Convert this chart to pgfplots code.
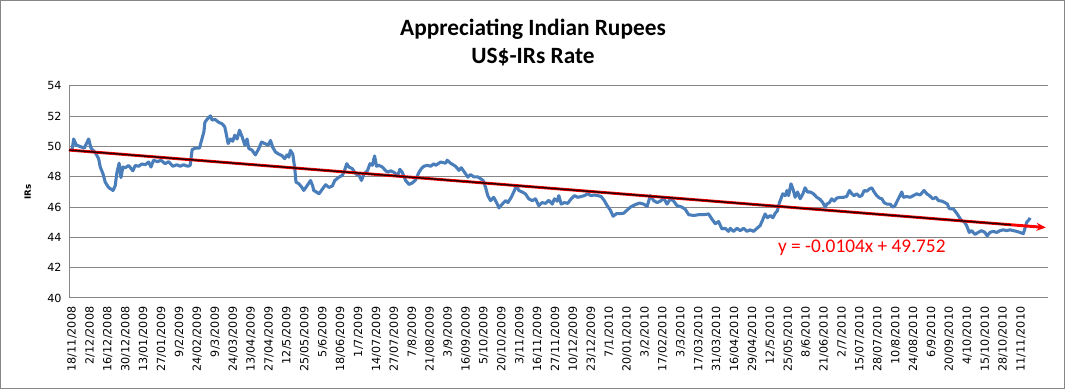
\documentclass[border=0pt]{standalone}
\usepackage{fontspec}
\usepackage{pgfplots}
\pgfplotsset{compat=1.18}
\usepackage{pgfplotstable}
\usetikzlibrary{arrows.meta}
\setmainfont{DejaVu Sans}
\newfontfamily\calibri{Carlito}
\definecolor{gridc}{HTML}{868686}
\definecolor{linec}{HTML}{4A7EBB}
\pgfplotstableread{
idx val
0 49.75
0.85 50.5
2.16 50.1
4.17 50.0
6.18 49.9
8.39 50.5
9.54 49.9
11.7 49.6
13.4 49.2
14.2 48.65
15.6 48.2
16.7 47.65
18.4 47.3
20.6 47.1
21.7 47.4
22.6 48.3
23.7 48.9
24.6 47.95
25.6 48.65
26.8 48.6
28.5 48.75
30.6 48.4
31.8 48.75
33.5 48.7
35.1 48.85
36.8 48.8
38.5 48.98
39.7 48.65
41.0 49.1
43.0 49.0
44.7 49.1
46.8 48.87
48.6 49.0
50.7 48.7
52.7 48.8
54.4 48.7
56.1 48.8
58.1 48.7
59.4 48.75
60.4 49.8
62.1 49.9
64.1 49.9
65.1 50.4
66.3 50.97
66.8 51.6
67.9 51.8
69.6 52.03
70.4 51.75
71.8 51.8
73.8 51.6
75.5 51.5
76.8 51.3
77.5 50.86
78.5 50.2
79.7 50.5
80.8 50.35
81.8 50.75
83.0 50.5
84.2 51.08
85.5 50.65
86.9 50.1
88.0 50.5
88.9 49.87
90.5 49.76
92.2 49.45
93.9 49.87
95.3 50.3
96.9 50.2
98.6 50.1
99.8 50.4
100.9 49.95
102.3 49.64
103.9 49.5
105.6 49.4
106.9 49.2
108.1 49.45
109.0 49.3
109.8 49.75
111.0 49.5
112.0 48.54
112.6 47.65
114.0 47.55
115.6 47.3
116.5 47.1
118.1 47.4
119.9 47.76
121.0 47.4
121.5 47.1
122.5 47.03
124.2 46.88
125.9 47.2
127.5 47.48
129.2 47.3
130.9 47.4
132.1 47.76
134.2 47.98
135.9 48.1
136.7 48.31
138.1 48.87
139.2 48.65
140.9 48.54
142.6 48.2
144.3 48.1
145.5 47.76
146.8 48.2
148.5 48.4
149.8 48.87
151.0 48.76
152.1 49.38
153.1 48.7
154.3 48.76
156.0 48.65
157.7 48.4
158.8 48.31
160.2 48.4
161.8 48.3
163.8 48.1
164.8 48.5
166.0 48.3
167.7 47.76
169.4 47.5
171.1 47.6
172.7 47.8
174.4 48.3
175.6 48.54
176.9 48.7
178.6 48.76
180.3 48.7
181.9 48.87
182.8 48.76
185.3 48.98
187.8 48.9
188.6 49.1
190.3 48.9
192.8 48.7
194.5 48.43
195.7 48.6
197.3 48.3
199.0 47.98
200.3 48.15
202.0 48.0
204.0 48.0
205.4 47.87
206.7 47.76
207.9 47.3
209.0 46.76
210.4 46.43
212.0 46.65
213.8 46.2
214.6 45.95
216.3 46.2
217.9 46.43
219.1 46.3
220.8 46.65
222.4 47.1
223.4 47.43
224.6 47.1
226.3 47.0
227.9 46.88
229.6 46.55
231.3 46.43
233.0 46.55
234.6 46.1
236.3 46.3
238.0 46.25
239.7 46.45
241.4 46.2
242.5 46.55
243.9 46.4
244.7 46.76
245.9 46.2
247.5 46.3
249.2 46.25
250.9 46.55
252.6 46.76
254.2 46.65
255.9 46.7
257.6 46.76
259.2 46.88
260.9 46.76
262.6 46.8
264.3 46.76
266.0 46.7
267.6 46.43
269.0 46.1
270.1 45.9
270.6 45.8
272.0 45.4
273.7 45.57
275.7 45.57
277.3 45.6
279.0 45.8
280.7 46.0
283.2 46.17
285.3 46.27
287.4 46.2
289.1 46.05
290.7 46.76
292.4 46.43
294.1 46.3
295.8 46.4
297.4 46.6
299.1 46.2
300.8 46.55
302.4 46.4
304.1 46.1
306.6 46.0
308.3 45.85
310.0 45.5
312.5 45.45
315.0 45.5
317.5 45.5
320.0 45.55
321.7 45.2
323.4 44.9
325.0 45.05
326.7 44.56
328.4 44.6
330.0 44.4
330.9 44.6
332.5 44.4
334.3 44.6
335.9 44.45
337.6 44.6
339.3 44.4
340.9 44.5
342.6 44.4
344.3 44.6
345.9 44.78
347.3 45.2
348.4 45.55
349.6 45.3
351.0 45.45
352.3 45.3
353.5 45.6
354.6 45.77
355.6 46.3
357.3 46.88
358.5 46.76
359.4 47.1
360.2 46.76
361.4 47.54
362.4 47.2
363.5 46.65
364.7 47.0
366.0 46.55
367.4 46.88
368.5 47.28
369.7 47.0
371.1 47.0
372.7 46.88
374.4 46.65
376.1 46.5
377.4 46.3
378.6 46.0
379.4 46.2
380.7 46.3
381.9 46.55
383.1 46.4
384.4 46.6
386.1 46.65
387.7 46.65
389.4 46.7
390.8 47.1
392.0 46.88
393.1 46.76
394.5 46.88
395.8 46.7
397.0 46.76
398.2 47.1
399.5 47.05
400.8 47.2
402.0 47.28
403.2 47.0
404.5 46.76
405.9 46.6
407.1 46.55
408.2 46.3
409.6 46.2
411.2 46.2
412.6 46.0
413.7 46.1
414.9 46.43
416.2 46.76
417.1 47.0
417.9 46.65
419.6 46.7
421.3 46.65
422.9 46.76
424.6 46.88
426.3 46.8
428.3 47.1
429.7 46.88
431.0 46.76
432.7 46.55
434.3 46.65
435.5 46.43
437.2 46.4
438.8 46.3
440.0 46.2
441.0 45.9
443.0 45.88
444.7 45.6
446.0 45.33
447.2 45.1
448.4 45.05
449.7 44.78
451.0 44.33
452.2 44.45
453.9 44.2
455.5 44.33
457.2 44.45
458.9 44.33
460.0 44.1
461.4 44.33
463.1 44.4
464.8 44.33
466.5 44.45
468.1 44.5
469.8 44.45
471.5 44.5
473.1 44.45
474.8 44.4
476.5 44.33
478.2 44.25
479.0 44.6
479.9 45.0
481.2 45.2
481.5 45.3
}\rates
\begin{document}
\begin{tikzpicture}
\useasboundingbox (0pt,0pt) rectangle (800.25pt,293.25pt);
\fill[white] (0pt,0pt) rectangle (800.25pt,293.25pt);
\draw[gridc, line width=0.75pt] (0.4pt,1.5pt) rectangle (798pt,292.9pt);
\node[font=\calibri\bfseries\fontsize{17.5}{20}\selectfont] at (399.75pt,271.5pt) {Appreciating Indian Rupees};
\node[font=\calibri\bfseries\fontsize{17.5}{20}\selectfont] at (399.75pt,250.5pt) {US\$-IRs Rate};
\begin{axis}[
  at={(51.75pt,69.75pt)}, anchor=south west,
  width=734.25pt, height=159pt, scale only axis,
  xmin=-1.5, xmax=490.6, ymin=40, ymax=54,
  ytick={40,42,...,54},
  xtick={0,9,...,477},
  xticklabels={18/11/2008,2/12/2008,16/12/2008,30/12/2008,13/01/2009,27/01/2009,9/2/2009,24/02/2009,9/3/2009,24/03/2009,13/04/2009,27/04/2009,12/5/2009,25/05/2009,5/6/2009,18/06/2009,1/7/2009,14/07/2009,27/07/2009,7/8/2009,21/08/2009,3/9/2009,16/09/2009,5/10/2009,20/10/2009,3/11/2009,16/11/2009,27/11/2009,10/12/2009,23/12/2009,7/1/2010,20/01/2010,3/2/2010,17/02/2010,3/3/2010,17/03/2010,31/03/2010,16/04/2010,29/04/2010,12/5/2010,25/05/2010,8/6/2010,21/06/2010,2/7/2010,15/07/2010,28/07/2010,10/8/2010,24/08/2010,6/9/2010,20/09/2010,4/10/2010,15/10/2010,28/10/2010,11/11/2010},
  x tick label style={rotate=90, anchor=east, font=\fontsize{8.4}{9}\selectfont},
  y tick label style={font=\fontsize{8.4}{9}\selectfont},
  /pgf/number format/assume math mode=true,
  ymajorgrids, grid style={draw=gridc, line width=0.75pt},
  axis x line*=bottom, axis y line*=left,
  axis line style={draw=gridc, line width=0.75pt, -},
  major tick length=0pt,
  xticklabel shift=3pt, yticklabel shift=2pt,
  ylabel={IRs},
  ylabel style={font=\bfseries\fontsize{6.5}{8}\selectfont, at={(axis description cs:-0.034,0.5)}},
  clip=false,
]
\addplot[linec, line width=2.3pt, line join=round] table[x=idx, y=val] {\rates};
\addplot[red, line width=2.2pt, -{Stealth[length=7pt,width=6pt]}] coordinates {(-1.5,49.768) (489.5,44.652)};
\addplot[black!85!red, line width=1.1pt] coordinates {(-1.5,49.768) (472,44.833)};
\node[red, font=\calibri\fontsize{14.5}{17}\selectfont] at (axis cs:397,43.3) {y = -0.0104x + 49.752};
\end{axis}
\end{tikzpicture}
\end{document}
